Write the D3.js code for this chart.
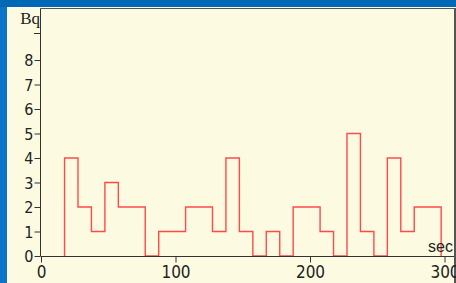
<!DOCTYPE html>
<html>
<head>
<meta charset="utf-8">
<script src="https://cdn.jsdelivr.net/npm/d3@7"></script>
<style>
html,body{margin:0;padding:0;background:#0068b4;}
svg{display:block;}
</style>
</head>
<body>
<svg id="c" width="456" height="283"></svg>
<script>
// ---- data ----
const binStarts = [17.5,27.5,37.5,47.5,57.5,67.5,77.5,87.5,97.5,107.5,117.5,127.5,137.5,147.5,
                   157.5,167.5,177.5,187.5,197.5,207.5,217.5,227.5,237.5,247.5,257.5,267.5,277.5,287.5];
const binWidth = 10;
const counts = [4,2,1,3,2,2,0,1,1,2,2,1,4,1,0,1,0,2,2,1,0,5,1,0,4,1,2,2];
const xTicks = [0,100,200,300];
const yTicks = [0,1,2,3,4,5,6,7,8];
const yUnit = "Bq";
const xUnit = "sec";
const yUnitTick = 9.12;

const svg = d3.select("#c");
const W = 456, H = 283;

// backgrounds
svg.append("rect").attr("x",0).attr("y",0).attr("width",W).attr("height",H).attr("fill","#0068b4");
svg.append("rect").attr("x",0).attr("y",7).attr("width",7).attr("height",H-7).attr("fill","#0b74c8");
svg.append("rect").attr("x",7).attr("y",7).attr("width",W-7).attr("height",H-7).attr("fill","#fcfbe1");
svg.append("line").attr("x1",7).attr("x2",W).attr("y1",7.5).attr("y2",7.5).attr("stroke","#ffffff").attr("stroke-width",1);

const x = d3.scaleLinear().domain([0,300]).range([41,444.5]);
const y = d3.scaleLinear().domain([0,10]).range([256,11]);

// frame top & right
svg.append("line").attr("x1",40.5).attr("x2",W).attr("y1",8.5).attr("y2",8.5).attr("stroke","#555").attr("stroke-width",1);
svg.append("rect").attr("x",454).attr("y",8).attr("width",2).attr("height",H-8).attr("fill","#555");

// histogram step path
const pts = [{x:binStarts[0], v:0}];
binStarts.forEach((s,i)=>pts.push({x:s, v:counts[i]}));
const endX = binStarts[binStarts.length-1] + binWidth;
pts.push({x:endX, v:counts[counts.length-1]});
pts.push({x:endX, v:0});
const line = d3.line().x(d=>x(d.x)).y(d=>y(d.v)).curve(d3.curveStepAfter);
svg.append("path").attr("d", line(pts)).attr("fill","none")
  .attr("stroke","#ff4a4a").attr("stroke-width",1.4);

// axes
const axisColor = "#333";
const yAxis = d3.axisLeft(y).tickValues(yTicks).tickSize(6).tickPadding(1).tickFormat(d3.format("d"));
const gy = svg.append("g").attr("transform","translate(40.5,0)").call(yAxis);
gy.select(".domain").remove();
gy.selectAll(".tick line").attr("stroke",axisColor);
gy.selectAll(".tick text").attr("fill","#222").attr("font-family","'Liberation Sans Narrow','DejaVu Sans Condensed',sans-serif").attr("font-size",16).attr("dy","0.36em");
svg.append("line").attr("x1",40.5).attr("x2",40.5).attr("y1",8.5).attr("y2",256).attr("stroke",axisColor);

// unit tick + label
svg.append("line").attr("x1",34).attr("x2",41).attr("y1",Math.round(y(yUnitTick))+0.5).attr("y2",Math.round(y(yUnitTick))+0.5).attr("stroke",axisColor);
svg.append("text").attr("x",40).attr("y",24).attr("text-anchor","end")
  .attr("font-family","'Liberation Serif','DejaVu Serif',serif").attr("font-size",17).attr("fill","#222").text(yUnit);

const xAxis = d3.axisBottom(x).tickValues(xTicks).tickSize(6).tickPadding(3).tickFormat(d3.format("d"));
const gx = svg.append("g").attr("transform","translate(0,256.5)").call(xAxis);
gx.select(".domain").remove();
gx.selectAll(".tick line").attr("stroke",axisColor);
gx.selectAll(".tick text").attr("fill","#222").attr("font-family","'Liberation Sans Narrow','DejaVu Sans Condensed',sans-serif").attr("font-size",17);
svg.append("line").attr("x1",40.5).attr("x2",454).attr("y1",256.5).attr("y2",256.5).attr("stroke",axisColor);

svg.append("text").attr("x",453).attr("y",252).attr("text-anchor","end")
  .attr("font-family","'Liberation Sans','DejaVu Sans',sans-serif").attr("font-size",16).attr("fill","#222").text(xUnit);
</script>
</body>
</html>
